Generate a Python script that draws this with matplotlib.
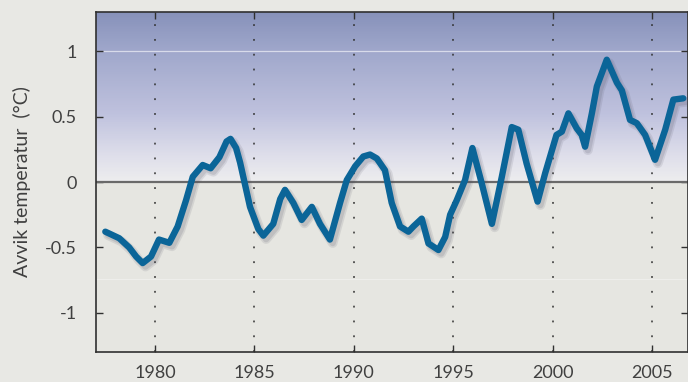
import numpy as np
import matplotlib
matplotlib.use("Agg")
import matplotlib.pyplot as plt
import matplotlib.patheffects as pe
from matplotlib.colors import LinearSegmentedColormap

plt.rcParams.update({'font.family': ['Lato', 'DejaVu Sans'], 'font.size': 13})

# temperature anomaly (deg C)
years = [1977.5, 1978.2, 1978.7, 1979.05, 1979.38, 1979.8, 1980.2, 1980.72, 1981.14,
         1981.56, 1981.9, 1982.4, 1982.8, 1983.24, 1983.6, 1983.8, 1984.08, 1984.28, 1984.78,
         1985.2, 1985.45, 1985.95, 1986.3, 1986.54, 1986.96, 1987.38, 1987.89, 1988.3, 1988.8,
         1989.31, 1989.65, 1990.07, 1990.48, 1990.82, 1991.16, 1991.57, 1991.91, 1992.33,
         1992.75, 1993.0, 1993.42, 1993.76, 1994.26, 1994.6, 1994.85, 1995.18, 1995.6, 1995.97,
         1996.44, 1996.95, 1997.45, 1997.95, 1998.28, 1998.7, 1999.25, 1999.63, 2000.2,
         2000.47, 2000.8, 2001.22, 2001.47, 2001.64, 2001.98, 2002.23, 2002.73, 2003.24,
         2003.49, 2003.9, 2004.24, 2004.66, 2005.16, 2005.67, 2006.08, 2006.58]
anomaly = [-0.38, -0.43, -0.50, -0.57, -0.62, -0.57, -0.44, -0.465, -0.34,
           -0.14, 0.04, 0.13, 0.105, 0.19, 0.31, 0.33, 0.26, 0.15, -0.19,
           -0.36, -0.41, -0.32, -0.13, -0.06, -0.16, -0.29, -0.19, -0.32, -0.44,
           -0.16, 0.015, 0.12, 0.195, 0.21, 0.18, 0.09, -0.16, -0.34,
           -0.38, -0.34, -0.28, -0.47, -0.52, -0.42, -0.25, -0.14, 0.015, 0.26,
           -0.01, -0.32, 0.04, 0.42, 0.40, 0.14, -0.15, 0.067, 0.36,
           0.385, 0.525, 0.41, 0.36, 0.27, 0.525, 0.73, 0.935, 0.76,
           0.70, 0.475, 0.45, 0.36, 0.17, 0.40, 0.63, 0.64]

xticks = [1980, 1985, 1990, 1995, 2000, 2005]
yticks = [-1, -0.5, 0, 0.5, 1]
ytick_labels = ['-1', '-0.5', '0', '0.5', '1']

bg = '#e8e8e4'
fig = plt.figure(figsize=(6.88, 3.82), dpi=100, facecolor=bg)
ax = fig.add_axes([0.1395, 0.0785, 0.86, 0.8901])
ax.set_xlim(1977.03, 2006.8)
ax.set_ylim(-1.3, 1.3)

# background gradient: blue on top, fading to grey at zero
cmap = LinearSegmentedColormap.from_list('sky', [
    (0.0, (0.902, 0.902, 0.886)),
    (0.5, (0.902, 0.902, 0.886)),
    (0.501, (0.93, 0.93, 0.935)),
    (0.58, (0.87, 0.87, 0.92)),
    (0.70, (0.75, 0.76, 0.87)),
    (0.88, (0.63, 0.66, 0.80)),
    (1.0, (0.53, 0.57, 0.73))])
grad = np.linspace(0, 1, 400).reshape(-1, 1)
ax.imshow(grad, cmap=cmap, aspect='auto', origin='lower',
          extent=[1977.03, 2006.8, -1.3, 1.3], zorder=0)

ax.axhline(1, color='white', lw=0.9, alpha=0.6, zorder=1)
ax.axhline(-0.74, color='white', lw=0.8, alpha=0.35, zorder=1)
ax.axhline(0, color='#6a6a6a', lw=1.6, zorder=2)
for x in xticks:
    ax.axvline(x, color='#303030', lw=1.1, linestyle=(0, (1.2, 8.5)), zorder=2)

ax.plot(years, anomaly, color='#0b6598', lw=4.6, solid_joinstyle='round',
        solid_capstyle='round', zorder=4,
        path_effects=[pe.SimpleLineShadow(offset=(2, -2.5), shadow_color='#505060', alpha=0.12,
                                          linewidth=7),
                      pe.SimpleLineShadow(offset=(2, -2.5), shadow_color='#505060', alpha=0.15),
                      pe.Normal()])

ax.set_xticks(xticks)
ax.set_yticks(yticks)
ax.set_yticklabels(ytick_labels)
ax.tick_params(direction='in', length=5, width=1, color='#303030', top=True, right=True,
               labelcolor='#404040', labelsize=13)
ax.tick_params(axis='y', pad=14)
ax.tick_params(axis='x', pad=9)
for s in ax.spines.values():
    s.set_color('#303030')
    s.set_linewidth(1.2)

ax.set_ylabel('Avvik temperatur  (\u00b0C)', color='#404040', fontsize=14, labelpad=10)

plt.savefig('out.png', dpi=100, facecolor=bg)
